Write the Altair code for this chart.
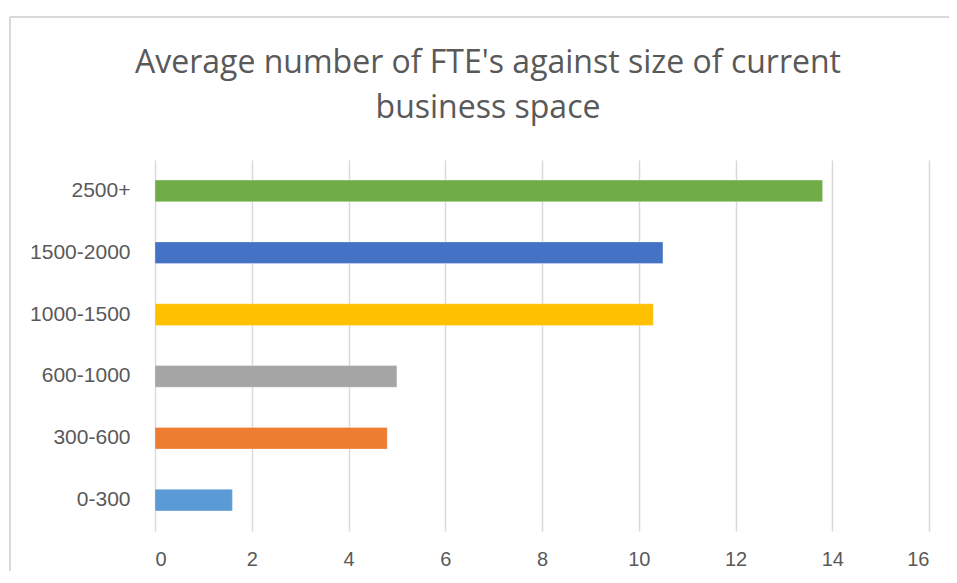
import altair as alt
import pandas as pd

categories = ["2500+", "1500-2000", "1000-1500", "600-1000", "300-600", "0-300"]
values = [13.8, 10.5, 10.3, 5.0, 4.8, 1.6]
colors = ["#70AD47", "#4472C4", "#FFC000", "#A5A5A5", "#ED7D31", "#5B9BD5"]
x_ticks = [0, 2, 4, 6, 8, 10, 12, 14, 16]

df = pd.DataFrame({"size": categories, "fte": values})

bars = alt.Chart(df).mark_bar(stroke="white", strokeWidth=0.5, strokeOpacity=0.6).encode(
    y=alt.Y("size:N", sort=categories,
            scale=alt.Scale(paddingInner=0.65, paddingOuter=0.325),
            axis=alt.Axis(title=None, domain=False, ticks=False, grid=False,
                          labelFont="Liberation Sans", labelFontSize=21,
                          labelColor="#595959", labelPadding=25)),
    x=alt.X("fte:Q", scale=alt.Scale(domain=[0, 16], nice=False),
            axis=alt.Axis(title=None, values=x_ticks, domain=False, ticks=False,
                          grid=True, gridColor="#d9d9d9", gridWidth=1.5,
                          labelFont="Liberation Sans", labelFontSize=20,
                          labelColor="#595959", labelPadding=18)),
    color=alt.Color("size:N", scale=alt.Scale(domain=categories, range=colors), legend=None),
)

border_df = pd.DataFrame({"b": [0]})
left_border = alt.Chart(border_df).mark_rule(color="#d9d9d9", strokeWidth=2).encode(
    x=alt.value(-145), y=alt.value(-143), y2=alt.value(460)
)
top_border = alt.Chart(border_df).mark_rule(color="#d9d9d9", strokeWidth=2).encode(
    x=alt.value(-145), x2=alt.value(820), y=alt.value(-143)
)

chart = alt.layer(left_border, top_border, bars).properties(
    width=774,
    height=371,
    background="white",
    title=alt.TitleParams(
        text=["Average number of FTE's against size of current", "business space"],
        font="Open Sans", fontSize=32, fontWeight="normal", color="#595959",
        lineHeight=45, anchor="middle", dx=-54, offset=-109,
    ),
    autosize=alt.AutoSizeParams(type="none"),
    padding={"left": 147, "top": 152, "right": 20, "bottom": 40},
).configure_view(stroke=None)

chart.save("out.html", embed_options={"renderer": "svg", "actions": False})
